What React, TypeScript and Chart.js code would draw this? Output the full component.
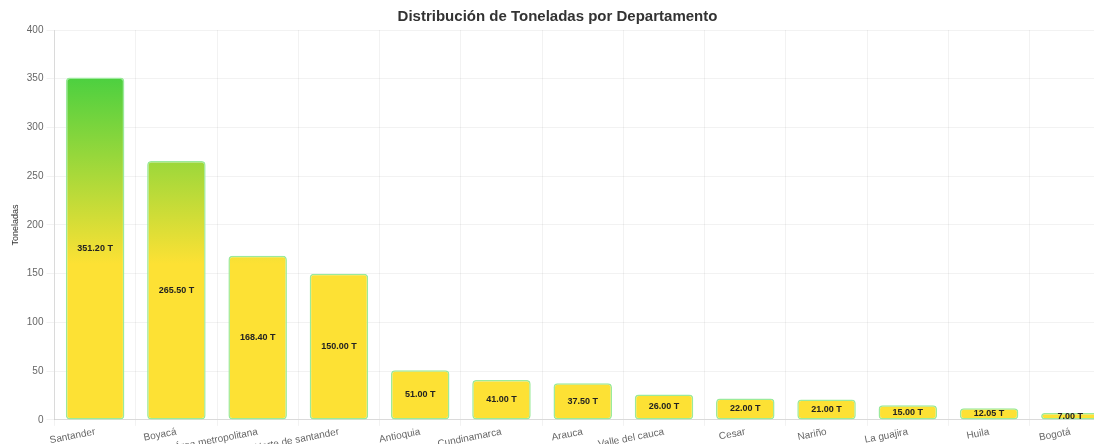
import React, { useEffect, useRef } from "react";
import { Chart, registerables } from "chart.js";

Chart.register(...registerables);

const categories = [
  "Santander",
  "Boyacá",
  "Área metropolitana",
  "Norte de santander",
  "Antioquia",
  "Cundinamarca",
  "Arauca",
  "Valle del cauca",
  "Cesar",
  "Nariño",
  "La guajira",
  "Huila",
  "Bogotá",
];

const toneladas = [351.2, 265.5, 168.4, 150.0, 51.0, 41.0, 37.5, 26.0, 22.0, 21.0, 15.0, 12.05, 7.0];

const chartTitle = "Distribución de Toneladas por Departamento";
const yTitle = "Toneladas";
const unit = "T";

const GREEN = "#4CD040";
const YELLOW = "#FDE134";

const barLabelPlugin = {
  id: "barLabels",
  afterDatasetsDraw(chart: any) {
    const ctx = chart.ctx;
    const meta = chart.getDatasetMeta(0);
    const data = chart.data.datasets[0].data as number[];
    ctx.save();
    ctx.font = "bold 9px 'Helvetica Neue', Helvetica, Arial, sans-serif";
    ctx.fillStyle = "#222";
    ctx.textAlign = "center";
    ctx.textBaseline = "middle";
    meta.data.forEach((bar: any, i: number) => {
      const y = (bar.y + bar.base) / 2;
      ctx.fillText(`${Number(data[i]).toFixed(2)} ${unit}`, bar.x, y);
    });
    ctx.restore();
  },
};

export default function App() {
  const canvasRef = useRef<HTMLCanvasElement | null>(null);

  useEffect(() => {
    if (!canvasRef.current) return;
    const chart = new Chart(canvasRef.current, {
      type: "bar",
      data: {
        labels: categories,
        datasets: [
          {
            label: yTitle,
            data: toneladas,
            backgroundColor: (c: any) => {
              const ch = c.chart;
              if (!ch.chartArea || !ch.scales || !ch.scales.y) return YELLOW;
              const ys = ch.scales.y;
              const g = ch.ctx.createLinearGradient(
                0,
                ys.getPixelForValue(351.2),
                0,
                ys.getPixelForValue(160)
              );
              g.addColorStop(0, GREEN);
              g.addColorStop(1, YELLOW);
              return g;
            },
            borderColor: "#9BEA9B",
            borderWidth: 1.5,
            borderRadius: 4,
            borderSkipped: false,
          },
        ],
      },
      options: {
        responsive: false,
        devicePixelRatio: 1,
        animation: false,
        layout: { padding: { right: 5, left: 4 } },
        plugins: {
          legend: { display: false },
          tooltip: { enabled: false },
          title: {
            display: true,
            text: chartTitle,
            color: "#333",
            font: { size: 15, weight: "bold" },
            padding: { top: 8, bottom: 4 },
          },
        },
        scales: {
          x: {
            grid: { color: "rgba(0,0,0,0.05)", tickLength: 6 },
            border: { color: "rgba(0,0,0,0.1)" },
            ticks: {
              color: "#666",
              font: { size: 10 },
              minRotation: 11,
              maxRotation: 11,
              autoSkip: false,
              padding: 0,
            },
          },
          y: {
            min: 0,
            max: 400,
            grid: { color: "rgba(0,0,0,0.05)" },
            border: { color: "rgba(0,0,0,0.1)" },
            ticks: { stepSize: 50, color: "#666", font: { size: 10 } },
            title: {
              display: true,
              text: yTitle,
              color: "#333",
              font: { size: 9 },
              padding: { top: 6, bottom: 3 },
            },
          },
        },
      },
      plugins: [barLabelPlugin],
    });
    return () => chart.destroy();
  }, []);

  return (
    <div style={{ position: "absolute", left: 0, top: 0, width: 1116, height: 454 }}>
      <canvas ref={canvasRef} width={1116} height={454} style={{ display: "block" }} />
    </div>
  );
}
